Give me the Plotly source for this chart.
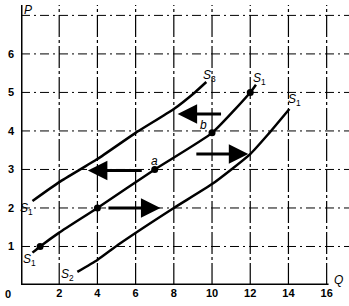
import plotly.graph_objects as go

# Supply curves (Q, P)
s3_q = [0.6, 2.0, 4.0, 6.0, 8.0, 9.1, 9.7]
s3_p = [2.18, 2.67, 3.27, 3.95, 4.57, 5.0, 5.27]
s1_q = [0.6, 1.0, 2.0, 4.0, 7.0, 10.0, 12.0, 12.3]
s1_p = [0.84, 1.0, 1.36, 2.0, 3.0, 3.95, 5.0, 5.2]
s2_q = [2.95, 4.0, 5.16, 8.0, 10.0, 12.0, 13.0, 14.05]
s2_p = [0.34, 0.65, 1.07, 2.0, 2.62, 3.4, 3.95, 4.57]

# Points on S1
pt_q = [1, 4, 7, 10, 12]
pt_p = [1, 2, 3, 3.95, 5]

# Shift arrows: (tail Q, tail P, head Q, head P)
arrows = [
    (6.4, 2.97, 3.5, 2.97),
    (4.5, 2.0, 7.3, 2.0),
    (9.1, 3.4, 11.9, 3.4),
    (10.55, 4.44, 8.2, 4.44),
]

x_ticks = [2, 4, 6, 8, 10, 12, 14, 16]
y_ticks = [1, 2, 3, 4, 5, 6]
grid_y = [1, 2, 3, 4, 5, 6, 7]

# Curve labels: (Q, P, text)
labels = [
    (9.85, 5.42, "<i>S</i><sub>3</sub>"),
    (12.5, 5.35, "<i>S</i><sub>1</sub>"),
    (14.3, 4.8, "<i>S</i><sub>1</sub>"),
    (0.3, 1.97, "<i>S</i><sub>1</sub>"),
    (0.45, 0.65, "<i>S</i><sub>1</sub>"),
    (2.45, 0.25, "<i>S</i><sub>2</sub>"),
    (7.0, 3.23, "<i>a</i>"),
    (9.55, 4.15, "<i>b</i>"),
]

fig = go.Figure()
for q, p in [(s3_q, s3_p), (s1_q, s1_p), (s2_q, s2_p)]:
    fig.add_trace(go.Scatter(x=q, y=p, mode="lines",
                             line=dict(color="black", width=2.5, shape="spline", smoothing=0.5),
                             hoverinfo="skip", showlegend=False))
fig.add_trace(go.Scatter(x=pt_q, y=pt_p, mode="markers",
                         marker=dict(color="black", size=7), showlegend=False))

shapes = []
for gx in x_ticks:
    shapes.append(dict(type="line", xref="x", yref="paper", x0=gx, x1=gx, y0=0, y1=1,
                       line=dict(color="black", width=1.2, dash="22px,3px,3px,3px"), layer="below"))
for gy in grid_y:
    shapes.append(dict(type="line", xref="paper", yref="y", x0=0, x1=1, y0=gy, y1=gy,
                       line=dict(color="black", width=1, dash="9px,4px,2px,4px"), layer="below"))
# axes
shapes.append(dict(type="line", xref="x", yref="paper", x0=0, x1=0, y0=0, y1=1,
                   line=dict(color="black", width=3)))
shapes.append(dict(type="line", xref="x", yref="y", x0=0, x1=16.1, y0=0, y1=0,
                   line=dict(color="black", width=3)))

lab_font = dict(size=12, color="black", family="Liberation Sans")

ann = []
for tq, tp, hq, hp in arrows:
    ann.append(dict(x=hq, y=hp, ax=tq, ay=tp, xref="x", yref="y", axref="x", ayref="y",
                    showarrow=True, arrowhead=2, arrowsize=1.3, arrowwidth=3,
                    arrowcolor="black", text=""))
for q, p, t in labels:
    ann.append(dict(x=q, y=p, text=t, showarrow=False, xref="x", yref="y", font=lab_font))
ann.append(dict(x=0.0, y=1.0, xref="paper", yref="paper", text="<i>P</i>", showarrow=False,
                xanchor="left", yanchor="top", xshift=1, yshift=4, font=lab_font))
ann.append(dict(x=16.6, y=0.12, xref="x", yref="y", text="<i>Q</i>", showarrow=False,
                font=lab_font))
ann.append(dict(x=0, y=0, xref="x", yref="y", text="0", showarrow=False,
                xshift=-13, yshift=-9,
                font=dict(size=11, color="black", family="Liberation Sans", weight="bold")))

tick_font = dict(size=11, color="black", family="Liberation Sans", weight="bold")
fig.update_layout(
    width=349, height=306, margin=dict(l=21, r=0, t=5, b=21),
    paper_bgcolor="white", plot_bgcolor="white",
    shapes=shapes, annotations=ann, showlegend=False,
    xaxis=dict(range=[0, 17.17], tickvals=x_ticks, showgrid=False, zeroline=False,
               showline=False, ticks="", fixedrange=True, tickfont=tick_font),
    yaxis=dict(range=[0, 7.27], tickvals=y_ticks, showgrid=False, zeroline=False,
               showline=False, ticks="", fixedrange=True, ticklabelstandoff=6,
               tickfont=tick_font),
)
fig.write_html("out.html")
